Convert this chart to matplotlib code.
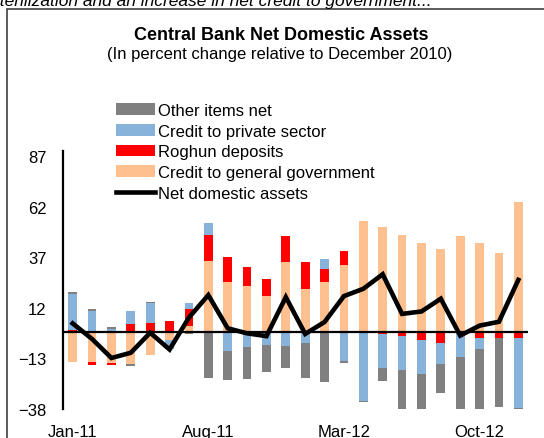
import numpy as np
import matplotlib
matplotlib.use("Agg")
import matplotlib.pyplot as plt
from matplotlib.patches import Rectangle

plt.rcParams['font.family'] = ['Liberation Sans', 'DejaVu Sans']

# Monthly data, Jan-11 .. Dec-12 (percent change relative to Dec-2010)
months = ['Jan-11', 'Feb-11', 'Mar-11', 'Apr-11', 'May-11', 'Jun-11',
          'Jul-11', 'Aug-11', 'Sep-11', 'Oct-11', 'Nov-11', 'Dec-11',
          'Jan-12', 'Feb-12', 'Mar-12', 'Apr-12', 'May-12', 'Jun-12',
          'Jul-12', 'Aug-12', 'Sep-12', 'Oct-12', 'Nov-12', 'Dec-12']

credit_gov = [-14.8, -14.8, -15.4, -15.9, -11.5, -4.1, 3.1, 35.1, 25.0, 22.8,
              17.9, 34.6, 21.5, 25.0, 33.0, 54.7, 51.8, 48.1, 44.0, 41.1,
              47.5, 44.0, 39.0, 64.3]
roghun = [1.0, -1.5, -0.8, 3.8, 4.4, 5.4, 8.2, 12.8, 12.3, 9.4,
          8.5, 12.8, 13.1, 6.4, 7.2, 0.0, -0.7, -1.7, -3.8, -5.4,
          0.0, -3.1, -3.1, -3.1]
credit_private = [17.8, 10.5, 1.3, 6.5, 9.9, -4.4, 3.3, 5.8, -9.2, -7.5,
                  -6.3, -6.7, -5.3, 4.6, -14.3, -33.8, -17.1, -16.8, -16.8, -10.2,
                  -12.1, -5.3, 0.0, -34.3]
other_items = [1.2, 0.8, 1.0, -1.0, 0.5, 0.0, -1.1, -22.7, -14.3, -15.9,
               -13.6, -11.0, -17.3, -24.7, -1.1, -0.5, -6.4, -21.0, -17.2, -14.3,
               -27.5, -31.0, -34.0, -2.0]
nda = [4.3, -3.4, -12.8, -10.2, -0.3, -8.6, 7.2, 18.3, 1.9, -0.6,
       -2.0, 17.3, -0.9, 5.0, 17.8, 21.4, 28.6, 9.0, 10.2, 16.5,
       -1.7, 3.2, 5.1, 25.8]

series = [
    (credit_gov, '#FFC08F', 'Credit to general government'),
    (roghun, '#FF0000', 'Roghun deposits'),
    (credit_private, '#87B3DA', 'Credit to private sector'),
    (other_items, '#808080', 'Other items net'),
]

fig = plt.figure(figsize=(5.44, 4.39), dpi=100)
ax = fig.add_axes([63 / 544, 29 / 439, 465 / 544, 258 / 439])

x = np.arange(len(months))
pos_base = np.zeros(len(months))
neg_base = np.zeros(len(months))
handles = {}
for vals, color, label in series:
    v = np.array(vals)
    bottom = np.where(v >= 0, pos_base, neg_base)
    bars = ax.bar(x, v, width=0.45, bottom=bottom, color=color, label=label,
                  zorder=2)
    handles[label] = bars
    pos_base += np.where(v > 0, v, 0)
    neg_base += np.where(v < 0, v, 0)

ax.axhline(0, color='black', lw=1.6, zorder=3)
line, = ax.plot(x, nda, color='black', lw=3.3, zorder=4,
                solid_joinstyle='miter', label='Net domestic assets')

ax.set_xlim(-0.5, len(months) - 0.5)
ax.set_ylim(-38, 89.5)
ax.set_yticks([-38, -13, 12, 37, 62, 87])
ax.set_xticks([0, 7, 14, 21])
ax.set_xticklabels([months[i] for i in [0, 7, 14, 21]])
ax.tick_params(axis='both', length=0, labelsize=12)
ax.tick_params(axis='y', pad=12)
ax.tick_params(axis='x', pad=11)
for s in ['top', 'right', 'bottom']:
    ax.spines[s].set_visible(False)
ax.spines['left'].set_linewidth(1.6)

order = ['Other items net', 'Credit to private sector', 'Roghun deposits',
         'Credit to general government']
leg_handles = [handles[k] for k in order] + [line]
leg_labels = order + ['Net domestic assets']
fig.legend(leg_handles, leg_labels, loc='upper left',
           bbox_to_anchor=(116 / 544, 1 - 104 / 439), frameon=False,
           fontsize=12, borderpad=0, borderaxespad=0, labelspacing=0.34,
           handlelength=2.35, handletextpad=0.2, handleheight=0.7)

fig.text(281 / 544, 1 - 35 / 439, 'Central Bank Net Domestic Assets',
         ha='center', va='center', fontsize=13, fontweight='bold')
fig.text(280 / 544, 1 - 54 / 439, '(In percent change relative to December 2010)',
         ha='center', va='center', fontsize=12)

# surrounding text line and box border
fig.text(-9 / 544, 1 - 6 / 439,
         'sterilization and an increase in net credit to government...',
         ha='left', va='baseline', fontsize=12.5, style='italic')
fig.patches.append(Rectangle((7 / 544, -0.1), 1.2, 1.1 - 10 / 439,
                             transform=fig.transFigure, fill=False,
                             edgecolor='#404040', lw=1.2))

fig.savefig('out.png', dpi=100)
